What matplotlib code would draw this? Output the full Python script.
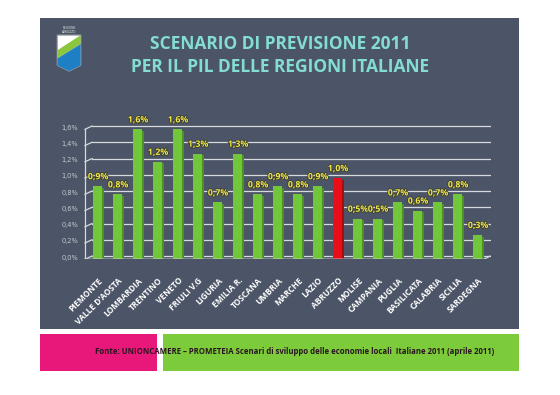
import matplotlib
matplotlib.use("Agg")
import matplotlib.pyplot as plt
import matplotlib.patheffects as pe
import numpy as np
from matplotlib.patches import Rectangle, Polygon, PathPatch
from matplotlib.path import Path

regions = ["PIEMONTE", "VALLE D'AOSTA", "LOMBARDIA", "TRENTINO", "VENETO", "FRIULI V.G",
           "LIGURIA", "EMILIA R.", "TOSCANA", "UMBRIA", "MARCHE", "LAZIO", "ABRUZZO",
           "MOLISE", "CAMPANIA", "PUGLIA", "BASILICATA", "CALABRIA", "SICILIA", "SARDEGNA"]
values = [0.9, 0.8, 1.6, 1.2, 1.6, 1.3, 0.7, 1.3, 0.8, 0.9, 0.8, 0.9, 1.0,
          0.5, 0.5, 0.7, 0.6, 0.7, 0.8, 0.3]
highlight = "ABRUZZO"
yticks = [0.0, 0.2, 0.4, 0.6, 0.8, 1.0, 1.2, 1.4, 1.6]
title_lines = ["SCENARIO DI PREVISIONE 2011", "PER IL PIL DELLE REGIONI ITALIANE"]
source = "Fonte: UNIONCAMERE \u2013 PROMETEIA Scenari di sviluppo delle economie locali  Italiane 2011 (aprile 2011)"

W, H = 560, 395
BG = "#4c5567"
GREEN = "#72c63a"
GREEN_D = "#4b9320"
RED = "#e81018"
RED_D = "#a80c10"
YEL = "#f2e64a"
TITLE = "#84ddd3"
FONT = "Open Sans"

fig = plt.figure(figsize=(W / 100, H / 100), dpi=100)
fig.patch.set_facecolor("white")

def box(x0, y0, x1, y1):
    return [x0 / W, 1 - y1 / H, (x1 - x0) / W, (y1 - y0) / H]

def rect(x0, y0, x1, y1, color):
    b = box(x0, y0, x1, y1)
    fig.patches.append(Rectangle((b[0], b[1]), b[2], b[3], transform=fig.transFigure,
                                 facecolor=color, edgecolor="none", zorder=-10))

rect(40, 18, 519, 329, BG)
rect(40, 334, 157, 371, "#e8187a")
rect(163, 334, 519, 371, "#7ccb3a")

# title
fig.text(280 / W, 1 - 44 / H, title_lines[0], ha="center", va="center", color=TITLE,
         fontsize=12.5, fontweight="bold", family=FONT)
fig.text(280 / W, 1 - 67 / H, title_lines[1], ha="center", va="center", color=TITLE,
         fontsize=12.5, fontweight="bold", family=FONT)

# source
fig.text(295 / W, 1 - 352 / H, source, ha="center", va="center", color="#2a1420",
         fontsize=5.6, fontweight="bold", family=FONT)

# logo
lax = fig.add_axes(box(55, 27, 83, 72))
lax.set_xlim(0, 1); lax.set_ylim(0, 1); lax.axis("off")
lax.text(0.5, 0.93, "REGIONE\nABRUZZO", ha="center", va="center", fontsize=2.2,
         color="#e0e0e0", linespacing=0.9)
verts = [(0.08, 0.82), (0.92, 0.82), (0.92, 0.15), (0.5, 0.02), (0.08, 0.15), (0.08, 0.82)]
shield = Path(verts)
sp = PathPatch(shield, facecolor="white", edgecolor="#9aa0a8", lw=0.8)
lax.add_patch(sp)
g = Polygon([(0.08, 0.30), (0.08, 0.48), (0.92, 0.82), (0.92, 0.62)], closed=True,
            facecolor="#8cc63f", edgecolor="none")
b = Polygon([(0.08, 0.30), (0.92, 0.62), (0.92, 0.0), (0.08, 0.0)], closed=True,
            facecolor="#1f7fc4", edgecolor="none")
for p in (g, b):
    lax.add_patch(p)
    p.set_clip_path(sp)

# chart
ax = fig.add_axes(box(84, 124.4, 491, 259.25))
ax.set_facecolor("none")
ax.set_xlim(-0.7, 19.65)
ax.set_ylim(-0.04, 1.62)
for s in ax.spines.values():
    s.set_visible(False)

gc = "#d6dade"
for v in yticks:
    ax.plot([-0.3, 19.6], [v, v], color=gc, lw=0.9, zorder=1)
    ax.plot([-0.65, -0.3], [v - 0.04, v], color=gc, lw=0.9, zorder=1)
    ax.text(-1.0, v - 0.02, f"{v:.1f}%".replace(".", ","), ha="right", va="center",
            color="#c4c9d0", fontsize=4.8, clip_on=False)
ax.plot([-0.65, -0.65], [-0.04, 1.56], color=gc, lw=0.9, zorder=1)
ax.plot([-0.65, 19.3, 19.6], [-0.04, -0.04, 0.0], color=gc, lw=0.9, zorder=4)
for i in range(len(regions) + 1):
    ax.plot([i - 0.5, i - 0.5], [-0.04, -0.075], color=gc, lw=0.8, zorder=4)

shadow = [pe.withStroke(linewidth=1.2, foreground="#3a3f30")]
x = np.arange(len(regions))
for i, (r, v) in enumerate(zip(regions, values)):
    c, cd = (RED, RED_D) if r == highlight else (GREEN, GREEN_D)
    ax.bar(i - 0.03, v, width=0.44, bottom=-0.04, color=c, zorder=3)
    ax.bar(i + 0.25, v - 0.02, width=0.12, bottom=-0.04, color=cd, zorder=3)
    ax.text(i, v + 0.02, f"{v:.1f}%".replace(".", ","), ha="center", va="bottom",
            color=YEL, fontsize=6.3, fontweight="bold", zorder=5, clip_on=False,
            family=FONT, path_effects=shadow)

ax.set_xticks(x)
ax.set_xticklabels(regions, rotation=45, ha="right", rotation_mode="anchor",
                   color="white", fontsize=6.0, fontweight="bold", family=FONT)
ax.tick_params(axis="x", length=0, pad=12)
ax.set_yticks([])

fig.savefig("out.png", dpi=100, facecolor="white")
